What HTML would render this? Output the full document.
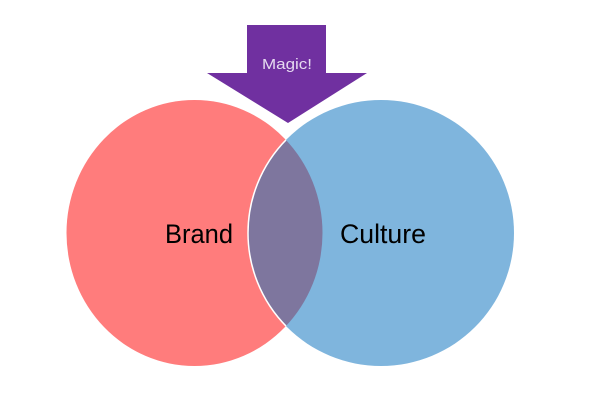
<!DOCTYPE html>
<html><head><meta charset="utf-8"><style>html,body{margin:0;padding:0;background:#fff}svg{display:block}</style></head>
<body>
<svg width="600" height="420" viewBox="0 0 600 420" xmlns="http://www.w3.org/2000/svg">
<defs>
<clipPath id="cl"><ellipse cx="194.5" cy="233" rx="128" ry="133"/></clipPath>
</defs>
<ellipse cx="194.5" cy="233" rx="128" ry="133" fill="#ff7c7c"/>
<ellipse cx="381" cy="233" rx="133" ry="133" fill="#7fb5dd"/>
<ellipse cx="381" cy="233" rx="133" ry="133" fill="#7e769e" stroke="#fff" stroke-width="1.5" clip-path="url(#cl)"/>
<polygon points="247,25 326,25 326,73 367,73 288,123 207,73 247,73" fill="#7030a0" stroke="#fff" stroke-width="2"/>
<polygon points="247,25 326,25 326,73 367,73 288,123 207,73 247,73" fill="#7030a0"/>
<text x="287" y="69" font-family="Liberation Sans, sans-serif" font-size="15" fill="#e6daf0" text-anchor="middle" textLength="50" lengthAdjust="spacingAndGlyphs">Magic!</text>
<text x="165" y="243" font-family="Liberation Sans, sans-serif" font-size="27" fill="#000" textLength="68" lengthAdjust="spacingAndGlyphs">Brand</text>
<text x="340" y="243" font-family="Liberation Sans, sans-serif" font-size="27" fill="#000" textLength="86" lengthAdjust="spacingAndGlyphs">Culture</text>
</svg>
</body></html>
